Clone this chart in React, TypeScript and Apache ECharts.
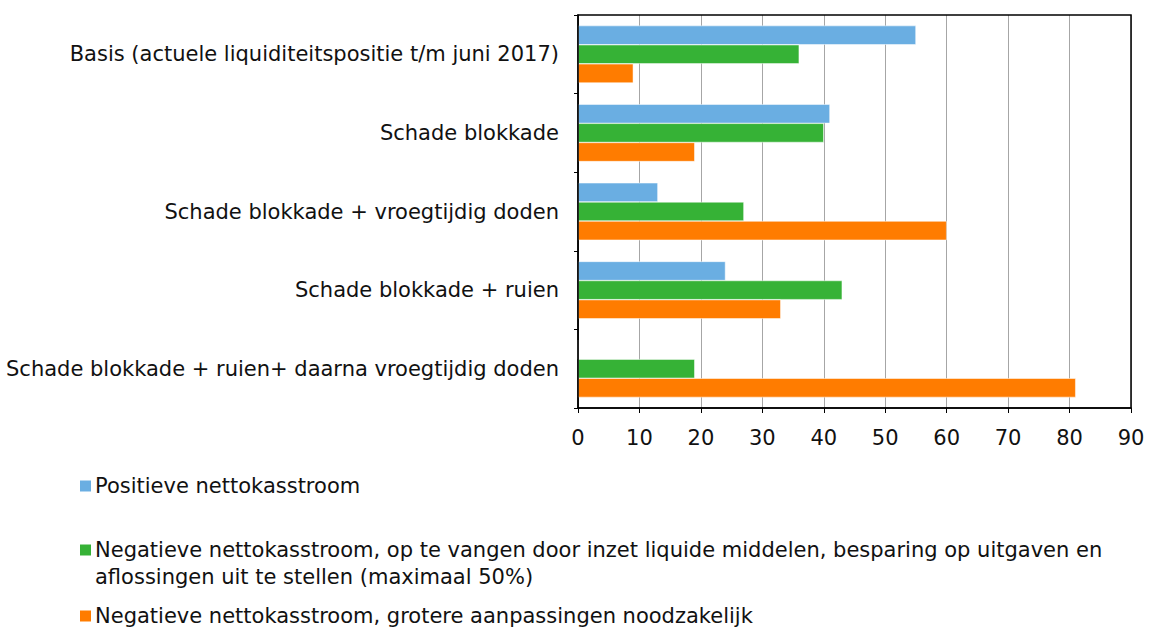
import React, { useEffect, useRef } from "react";
import * as echarts from "echarts";

const categories = [
  "Basis (actuele liquiditeitspositie t/m juni 2017)",
  "Schade blokkade",
  "Schade blokkade + vroegtijdig doden",
  "Schade blokkade + ruien",
  "Schade blokkade + ruien+ daarna vroegtijdig doden",
];
const seriesNames = [
  "Positieve nettokasstroom",
  "Negatieve nettokasstroom, op te vangen door inzet liquide middelen, besparing op uitgaven en aflossingen uit te stellen (maximaal 50%)",
  "Negatieve nettokasstroom, grotere aanpassingen noodzakelijk",
];
const legendLabels = [
  "Positieve nettokasstroom",
  "Negatieve nettokasstroom, op te vangen door inzet liquide middelen, besparing op uitgaven en\naflossingen uit te stellen (maximaal 50%)",
  "Negatieve nettokasstroom, grotere aanpassingen noodzakelijk",
];
const positief = [55, 41, 13, 24, 0];
const negatiefOpvangbaar = [36, 40, 27, 43, 19];
const negatiefGroot = [9, 19, 60, 33, 81];
const xTicks = [0, 10, 20, 30, 40, 50, 60, 70, 80, 90];

const colors = ["#6aaee2", "#36b236", "#ff7c00"];
const FONT = "DejaVu Sans";
const FS = 21;

export default function App() {
  const ref = useRef<HTMLDivElement>(null);
  useEffect(() => {
    const chart = echarts.init(ref.current!, null, { renderer: "svg" });
    const data = [positief, negatiefOpvangbaar, negatiefGroot];
    const legendCenters = [486, 550, 616];
    const lineH = 27;
    const legendGraphics: any[] = [];
    legendLabels.forEach((label, i) => {
      const cy = legendCenters[i];
      legendGraphics.push({
        type: "rect",
        shape: { x: 80, y: cy - 5.5, width: 11, height: 11 },
        style: { fill: colors[i] },
        silent: true,
      });
      legendGraphics.push({
        type: "text",
        x: 95,
        y: cy - lineH / 2,
        style: {
          text: label,
          fill: "#111",
          font: `${FS}px ${FONT}`,
          lineHeight: lineH,
          verticalAlign: "top",
        },
        silent: true,
      });
    });
    chart.setOption({
      animation: false,
      textStyle: { fontFamily: FONT },
      grid: { left: 578, right: 18, top: 15, bottom: 220, show: false },
      xAxis: {
        type: "value",
        min: xTicks[0],
        max: xTicks[xTicks.length - 1],
        interval: 10,
        axisLine: { show: true, lineStyle: { color: "#000", width: 1.5 } },
        axisTick: { show: true, length: 5, lineStyle: { color: "#000" } },
        axisLabel: { color: "#111", fontSize: FS, fontFamily: FONT, margin: 19 },
        splitLine: { show: true, lineStyle: { color: "#a6a6a6", width: 1 } },
      },
      yAxis: {
        type: "category",
        data: categories,
        inverse: true,
        axisLine: { show: true, lineStyle: { color: "#000", width: 1.5 } },
        axisTick: { show: true, length: 4, inside: false, lineStyle: { color: "#000" } },
        axisLabel: { color: "#111", fontSize: FS, fontFamily: FONT, margin: 19 },
        splitLine: { show: false },
      },
      graphic: [
        {
          type: "rect",
          shape: { x: 578, y: 15, width: 1131 - 578, height: 408 - 15 },
          style: { fill: "none", stroke: "#000", lineWidth: 1.5 },
          silent: true,
          z: 10,
        },
        ...legendGraphics,
      ],
      series: seriesNames.map((n, i) => ({
        name: n,
        type: "bar",
        data: data[i],
        barGap: "0%",
        barCategoryGap: "27%",
        itemStyle: { color: colors[i], borderColor: "#fff", borderWidth: 0.5 },
      })),
    });
    return () => chart.dispose();
  }, []);
  return (
    <div
      ref={ref}
      style={{ position: "fixed", left: 0, top: 0, width: 1149, height: 628, background: "#fff" }}
    />
  );
}
